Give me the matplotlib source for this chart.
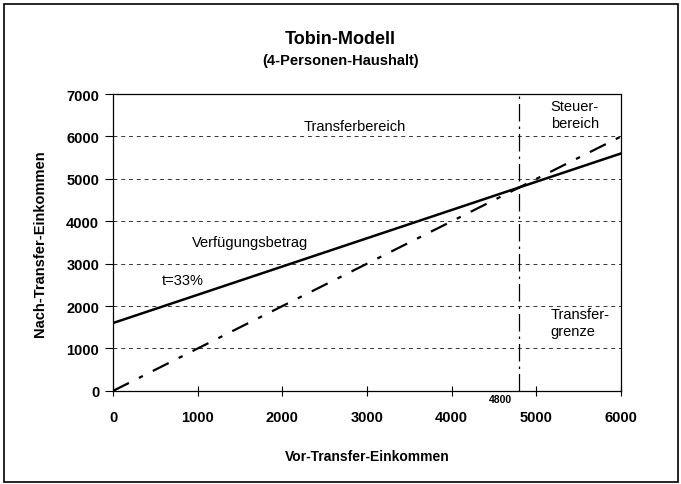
import numpy as np
import matplotlib.pyplot as plt
from matplotlib.patches import Rectangle

plt.rcParams['font.family'] = ['Liberation Sans', 'DejaVu Sans']

# data
income_before = [0, 6000]          # Vor-Transfer-Einkommen
disposable = [1600, 5600]          # Verfuegungsbetrag, t = 33%
diagonal = [0, 6000]               # 45-Grad-Linie
transfer_limit = 4800
y_ticks = [0, 1000, 2000, 3000, 4000, 5000, 6000, 7000]
x_ticks = [0, 1000, 2000, 3000, 4000, 5000, 6000]

fig = plt.figure(figsize=(6.81, 4.85), dpi=100)
ax = fig.add_axes([0.166, 0.192, 0.746, 0.612])

# frame around the whole picture
fig.patches.append(Rectangle((0.006, 0.004), 0.99, 0.986, transform=fig.transFigure,
                             fill=False, edgecolor='black', linewidth=1.2))

for y in y_ticks[1:-1]:
    ax.axhline(y, color='#333333', linestyle=(0, (4, 4)), linewidth=0.7, zorder=1)

ax.plot(income_before, disposable, color='black', linewidth=1.8, zorder=3)
ax.plot(income_before, diagonal, color='black', linewidth=1.6,
        linestyle=(0, (8, 5, 2, 5)), zorder=3)
ax.axvline(transfer_limit, color='black', linewidth=0.9,
           linestyle=(0, (14, 4, 2, 4)), zorder=2)

ax.set_xlim(0, 6000)
ax.set_ylim(0, 7000)
ax.set_xticks(x_ticks)
ax.set_yticks(y_ticks)
ax.tick_params(axis='x', direction='inout', length=7, width=0.8, pad=10, labelsize=10.5)
ax.tick_params(axis='y', direction='out', length=6, width=0.8, pad=4, labelsize=10.5)
for lab in ax.get_xticklabels() + ax.get_yticklabels():
    lab.set_fontweight('bold')
for s in ax.spines.values():
    s.set_linewidth(0.9)

ax.text(4580, -80, str(transfer_limit), ha='center', va='top', fontsize=7.5, fontweight='bold')

ax.text(2860, 6250, 'Transferbereich', ha='center', va='center', fontsize=10.5)
ax.text(5170, 6520, 'Steuer-\nbereich', ha='left', va='center', fontsize=10.5, linespacing=1.3)
ax.text(930, 3520, 'Verfügungsbetrag', ha='left', va='center', fontsize=10.5)
ax.text(580, 2620, 't=33%', ha='left', va='center', fontsize=10.5)
ax.text(5170, 1610, 'Transfer-\ngrenze', ha='left', va='center', fontsize=10.5, linespacing=1.3)

fig.text(0.5, 0.918, 'Tobin-Modell', ha='center', va='center', fontsize=13, fontweight='bold')
fig.text(0.5, 0.874, '(4-Personen-Haushalt)', ha='center', va='center', fontsize=10.5, fontweight='bold')
ax.set_xlabel('Vor-Transfer-Einkommen', fontsize=10, fontweight='bold', labelpad=18)
ax.set_ylabel('Nach-Transfer-Einkommen', fontsize=10.5, fontweight='bold', labelpad=14)

fig.savefig('out.png', dpi=100)
